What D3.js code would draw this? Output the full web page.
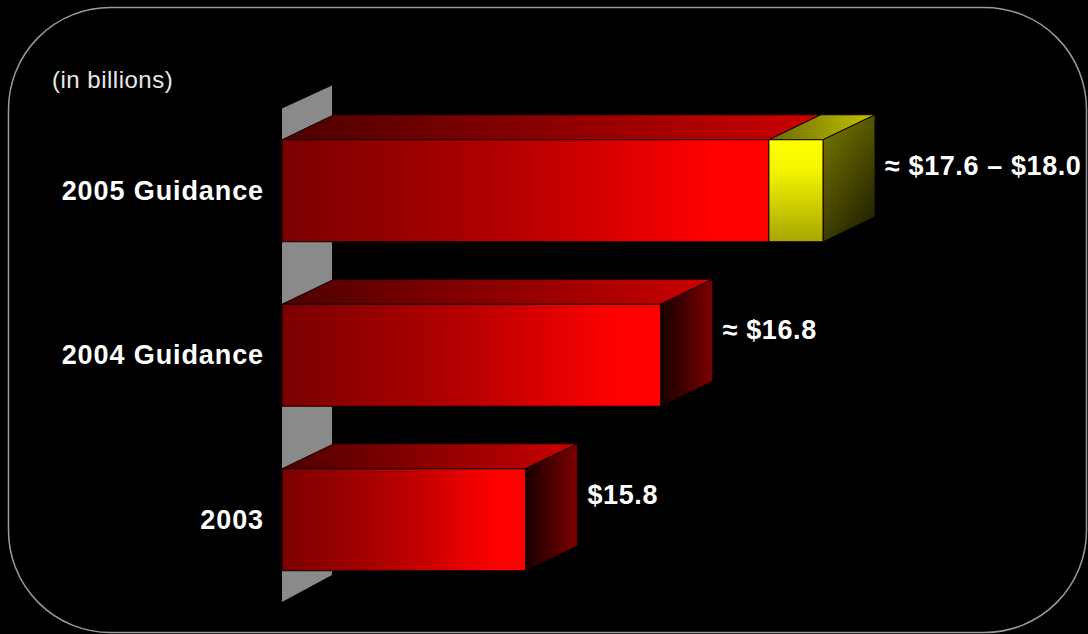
<!DOCTYPE html>
<html>
<head>
<meta charset="utf-8">
<script src="https://cdn.jsdelivr.net/npm/d3@7"></script>
<style>
  html, body { margin: 0; padding: 0; background: #000; }
  svg { display: block; }
</style>
</head>
<body>
<div id="chart-area"></div>
<script>
// revenue bars
const categories = ["2005 Guidance", "2004 Guidance", "2003"];
const lowValues = [17.6, 16.8, 15.8];
const highValues = [18.0, null, null];
const valueLabels = ["\u2248 $17.6 \u2013 $18.0", "\u2248 $16.8", "$15.8"];
const axisDomain = [14, 18.0];
const unitLabel = "(in billions)";

const width = 1088;
const height = 634;
const depth = {x: 52, y: 25};

const svg = d3.select("#chart-area")
    .append("svg")
        .attr("width", width)
        .attr("height", height)
        .style("background", "#000");

// frame
svg.append("rect")
    .attr("x", 8.5)
    .attr("y", 7.5)
    .attr("width", 1078)
    .attr("height", 625)
    .attr("rx", 102)
    .attr("ry", 102)
    .attr("fill", "none")
    .attr("stroke", "#9a9a9a")
    .attr("stroke-width", 1.5);

const x = d3.scaleLinear().domain(axisDomain).range([282, 823]);

const y = d3.scaleBand()
    .domain(categories)
    .range([108.5, 602])
    .paddingInner(0.38)
    .paddingOuter(0.19);

const defs = svg.append("defs");
function grad(id, x2, y2, stops) {
    const g = defs.append("linearGradient")
        .attr("id", id)
        .attr("x1", 0).attr("y1", 0)
        .attr("x2", x2).attr("y2", y2);
    stops.forEach(s => {
        g.append("stop").attr("offset", s[0]).attr("stop-color", s[1]);
    });
}
grad("redFront", 1, 0, [[0, "#7a0000"], [0.5, "#b80000"], [0.88, "#ff0000"], [1, "#ff0000"]]);
grad("redTop", 1, 0, [[0, "#4c0000"], [1, "#cc0000"]]);
grad("redSide", 1, 0, [[0, "#160000"], [1, "#7e0000"]]);
grad("yelFront", 0, 1, [[0, "#ffff00"], [0.3, "#f4f400"], [1, "#a6a600"]]);
grad("yelTop", 1, 0, [[0, "#6a6a00"], [1, "#c4c400"]]);
grad("yelSide", 0.6, 1, [[0, "#7c7c00"], [1, "#262600"]]);

// grey back wall
const x0 = x(axisDomain[0]);
const wallTop = y.range()[0];
const wallBottom = y.range()[1];
svg.append("path")
    .attr("d", d3.line()([
        [x0, wallTop], [x0 + depth.x - 2, wallTop - depth.y + 2],
        [x0 + depth.x - 2, wallBottom - depth.y - 2], [x0, wallBottom]
    ]) + "Z")
    .attr("fill", "#8a8a8a");

function box(g, xa, xb, yt, h, front, top, side) {
    const dx = depth.x, dy = depth.y;
    g.append("path")
        .attr("d", d3.line()([[xa, yt], [xa + dx, yt - dy], [xb + dx, yt - dy], [xb, yt]]) + "Z")
        .attr("fill", `url(#${top})`)
        .attr("stroke", "#140000").attr("stroke-width", 1);
    g.append("path")
        .attr("d", d3.line()([[xb, yt], [xb + dx, yt - dy], [xb + dx, yt + h - dy], [xb, yt + h]]) + "Z")
        .attr("fill", `url(#${side})`)
        .attr("stroke", "#140000").attr("stroke-width", 1);
    g.append("rect")
        .attr("x", xa).attr("y", yt)
        .attr("width", xb - xa).attr("height", h)
        .attr("fill", `url(#${front})`)
        .attr("stroke", "#140000").attr("stroke-width", 1);
}

categories.forEach((c, i) => {
    const g = svg.append("g").attr("class", "bar");
    const yt = y(c);
    const h = y.bandwidth();
    box(g, x0, x(lowValues[i]), yt, h, "redFront", "redTop", "redSide");
    if (highValues[i] != null) {
        box(g, x(lowValues[i]), x(highValues[i]), yt, h, "yelFront", "yelTop", "yelSide");
    }
    const end = highValues[i] != null ? highValues[i] : lowValues[i];
    svg.append("text")
        .attr("x", x(end) + depth.x + 10)
        .attr("y", yt + 26)
        .attr("dominant-baseline", "central")
        .attr("font-family", "'Liberation Sans', Arial, sans-serif")
        .attr("font-weight", "bold")
        .attr("font-size", "27px")
        .attr("letter-spacing", "0.6px")
        .attr("fill", "#fff")
        .text(valueLabels[i]);
});

// category labels
svg.append("g").selectAll("text")
    .data(categories)
    .enter().append("text")
        .attr("x", 264)
        .attr("y", d => y(d) + y.bandwidth() / 2)
        .attr("text-anchor", "end")
        .attr("dominant-baseline", "central")
        .attr("font-family", "'Liberation Sans', Arial, sans-serif")
        .attr("font-weight", "bold")
        .attr("font-size", "27px")
        .attr("letter-spacing", "0.9px")
        .attr("fill", "#fff")
        .text(d => d);

svg.append("text")
    .attr("x", 52)
    .attr("y", 79)
    .attr("dominant-baseline", "central")
    .attr("font-family", "'Liberation Sans', Arial, sans-serif")
    .attr("font-size", "24px")
    .attr("letter-spacing", "0.5px")
    .attr("fill", "#e8e8e8")
    .text(unitLabel);
</script>
</body>
</html>
